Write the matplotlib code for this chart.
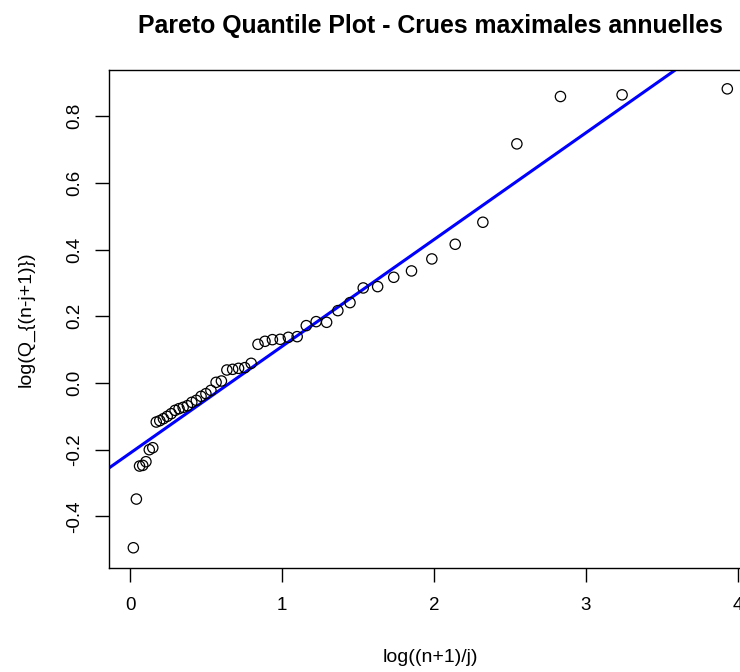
import matplotlib
matplotlib.use("Agg")
import matplotlib.pyplot as plt
import numpy as np

plt.rcParams['font.family'] = ['Liberation Sans', 'DejaVu Sans']

# x = log((n+1)/j), j = 1..50 (n = 50)
x_vals = [3.932, 3.239, 2.833, 2.546, 2.322, 2.140, 1.986, 1.852, 1.735, 1.629,
          1.534, 1.447, 1.367, 1.293, 1.224, 1.159, 1.099, 1.041, 0.987, 0.936,
          0.887, 0.841, 0.796, 0.754, 0.713, 0.674, 0.636, 0.600, 0.565, 0.531,
          0.498, 0.466, 0.435, 0.405, 0.376, 0.348, 0.321, 0.295, 0.269, 0.243,
          0.218, 0.194, 0.171, 0.148, 0.125, 0.103, 0.082, 0.061, 0.040, 0.020]
# y = log(Q_{(n-j+1)})
y_vals = [0.882, 0.864, 0.859, 0.717, 0.482, 0.416, 0.372, 0.336, 0.317, 0.289,
          0.285, 0.241, 0.217, 0.182, 0.184, 0.172, 0.139, 0.137, 0.131, 0.130,
          0.125, 0.116, 0.059, 0.046, 0.044, 0.041, 0.039, 0.006, 0.002, -0.022,
          -0.032, -0.040, -0.052, -0.058, -0.068, -0.073, -0.077, -0.082, -0.092, -0.100,
          -0.107, -0.113, -0.117, -0.194, -0.200, -0.236, -0.247, -0.249, -0.348, -0.494]

fit_intercept = -0.210
fit_slope = 0.320

x_ticks = [0, 1, 2, 3, 4]
y_ticks = [-0.4, -0.2, 0.0, 0.2, 0.4, 0.6, 0.8]

fig = plt.figure(figsize=(7.4, 6.72), dpi=100)
ax = fig.add_axes([109.5 / 740, 104 / 672, (751 - 109.5) / 740, 498 / 672])

ax.scatter(x_vals, y_vals, s=55, facecolors='none', edgecolors='black', linewidths=0.9, zorder=3)

xl = np.array([-0.137, 4.088])
ax.plot(xl, fit_intercept + fit_slope * xl, color='blue', linewidth=2.2, zorder=2)

ax.set_xlim(-0.137, 4.088)
ax.set_ylim(-0.5547, 0.9385)
ax.set_xticks(x_ticks)
ax.set_xticklabels([str(t) for t in x_ticks])
ax.set_yticks(y_ticks)
ax.set_yticklabels([f"{t:.1f}" for t in y_ticks], rotation=90, va='center')

ax.tick_params(axis='both', direction='out', length=10, width=1, labelsize=13.5, pad=11)
ax.tick_params(axis='y', pad=9)

for s in ax.spines.values():
    s.set_linewidth(1.0)
    s.set_color('black')

ax.set_xlabel("log((n+1)/j)", fontsize=14, labelpad=25)
ax.set_ylabel("log(Q_{(n-j+1)})", fontsize=14, labelpad=23)
ax.set_title("Pareto Quantile Plot - Crues maximales annuelles", fontsize=17.9,
             fontweight='bold', pad=27)

fig.savefig("out.png", dpi=100)
